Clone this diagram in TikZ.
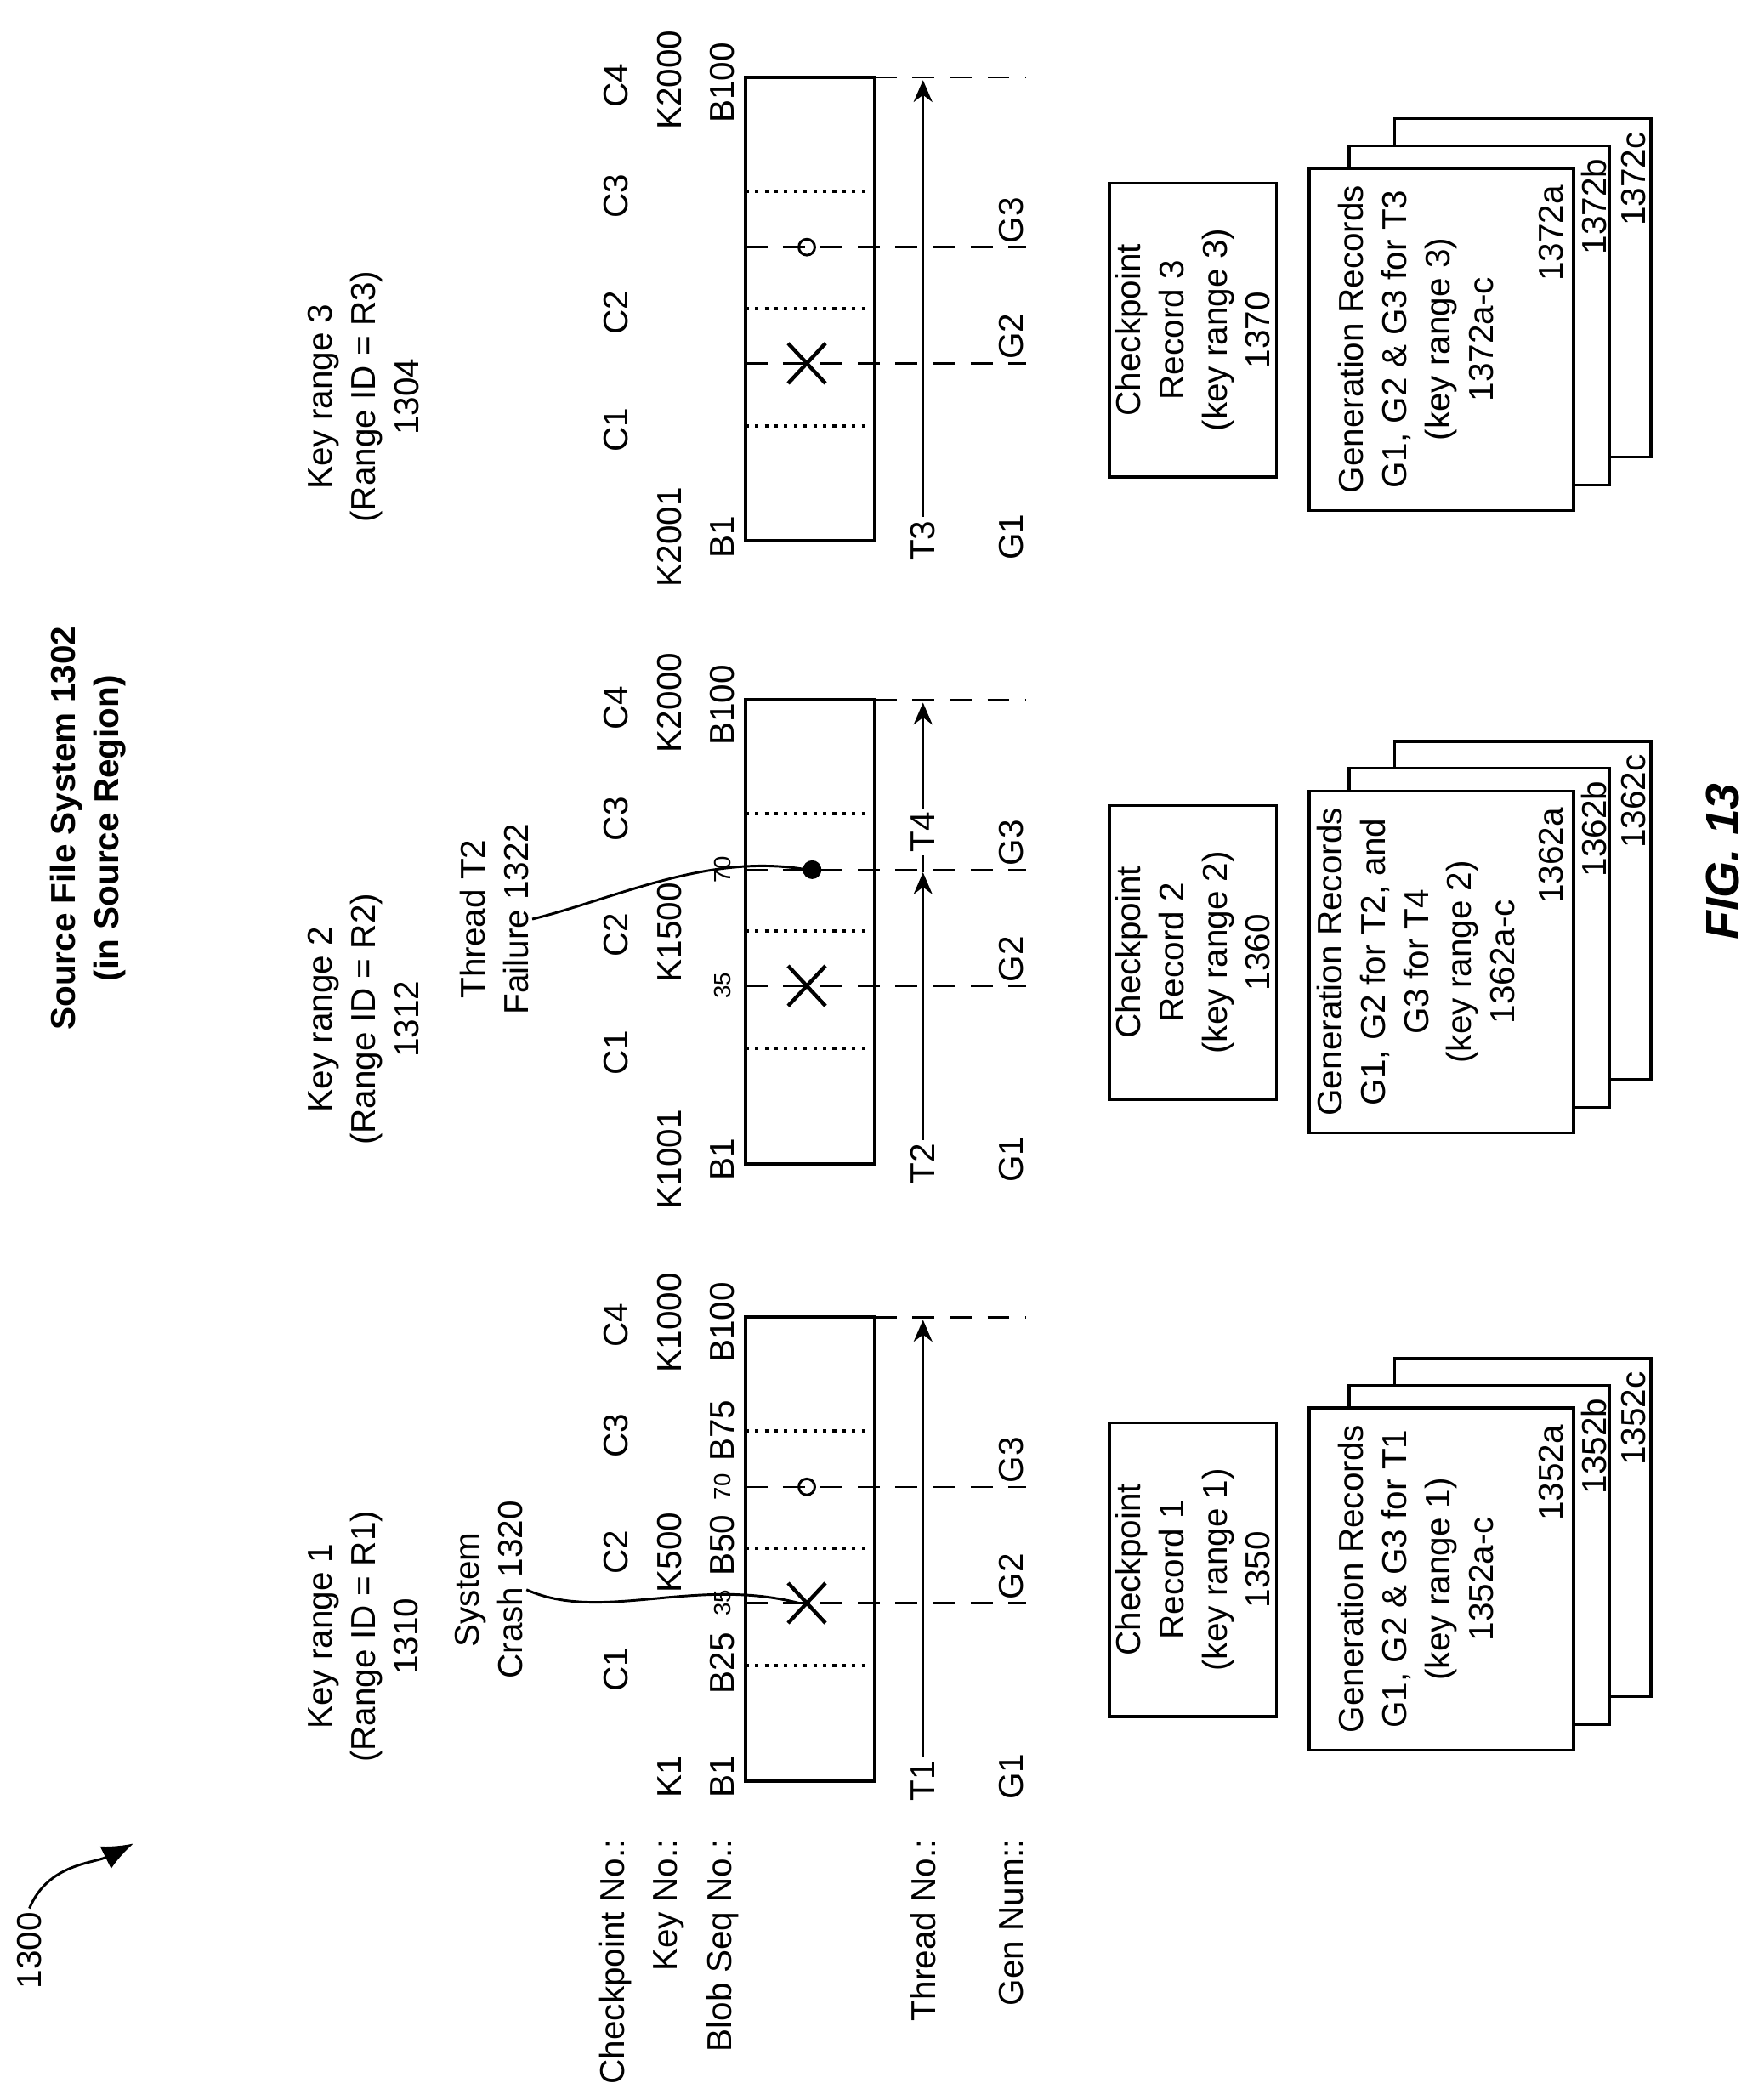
\documentclass[tikz,border=0pt]{standalone}
\usepackage{fontspec}
\setmainfont{Liberation Sans}
\usetikzlibrary{arrows.meta}
\begin{document}
\begin{tikzpicture}[x=0.015cm,y=-0.015cm,
  lbl/.style={rotate=90, font=\fontsize{11}{13.8}\selectfont, align=center, inner sep=1pt},
  tiny/.style={rotate=90, font=\fontsize{7.5}{8}\selectfont, inner sep=0.5pt},
  rec/.style={draw, line width=0.9pt, fill=white},
  guide/.style={dash pattern=on 7pt off 5pt, line width=0.7pt},
  cut/.style={dotted, line width=1.1pt},
  flow/.style={-{Stealth[length=7pt,width=6pt]}, line width=0.7pt},
  lead/.style={line width=0.8pt}]
\useasboundingbox (0,0) rectangle (1320,1572);

% heading and reference numeral
\node[lbl, font=\bfseries\fontsize{11}{13.8}\selectfont] (title) at (66,620) {Source File System 1302\\(in Source Region)};
\node[lbl] (ref) at (22,1460) {1300};
\draw[-{Latex[length=10pt,width=8pt]}, line width=0.8pt] (ref.east) .. controls (36,1395) and (70,1395) .. (100,1380);
\node[rotate=90, font=\bfseries\itshape\fontsize{15}{18}\selectfont] (figno) at (1290,645) {FIG. 13};

% row captions
\node[lbl, anchor=east] (cpno) at (461,1374) {Checkpoint No.:};
\node[lbl, anchor=east] (keyno) at (501,1374) {Key No.:};
\node[lbl, anchor=east] (blobno) at (541,1374) {Blob Seq No.:};
\node[lbl, anchor=east] (thrno) at (691,1374) {Thread No.:};
\node[lbl, anchor=east] (genno) at (757,1374) {Gen Num::};

% three key ranges
\foreach \p/\s/\n/\kr/\crec in {1/0/1/1310/1350, 2/-462/2/1312/1360, 3/-928/3/1304/1370}{
\begin{scope}[shift={(0,\s)}]
  \coordinate (lo\p) at (558,1333);
  \coordinate (hi\p) at (655,986);
  \draw[line width=1.1pt] (lo\p) rectangle (hi\p);
  \foreach \y in {1247,1159,1071}{
    \coordinate (da\p\y) at (558,\y);
    \coordinate (db\p\y) at (651,\y);
    \draw[cut] (da\p\y) -- (db\p\y);
  }
  \coordinate (end\p) at (768,986);
  \draw[guide] (hi\p) -- (end\p);
  \coordinate (xa\p) at (558,1200);
  \coordinate (xb\p) at (768,1200);
  \draw[guide] (xa\p) -- (xb\p);
  \coordinate (oa\p) at (558,1113);
  \coordinate (ob\p) at (768,1113);
  \draw[guide] (oa\p) -- (ob\p);
  \draw[line width=1.2pt] (590,1185) -- (618,1215) (590,1215) -- (618,1185);
  \node[lbl] (c1\p) at (461,1250) {C1};
  \node[lbl] (c2\p) at (461,1162) {C2};
  \node[lbl] (c3\p) at (461,1075) {C3};
  \node[lbl] (c4\p) at (461,992) {C4};
  \node[lbl] (b1\p) at (541,1330) {B1};
  \node[lbl] (b4\p) at (541,990) {B100};
  \node[lbl] (g1\p) at (757,1330) {G1};
  \node[lbl] (g2\p) at (757,1180) {G2};
  \node[lbl] (g3\p) at (757,1093) {G3};
  \node[lbl] (kr\p) at (272,1225) {Key range \n\\(Range ID = R\n)\\\kr};
  \node[rec, lbl, minimum width=3.3cm, minimum height=1.875cm] (cp\p) at (893,1175) {Checkpoint\\Record \n\\(key range \n)\\\crec};
  \draw[rec] (1044,1017) rectangle (1236,1270);
  \draw[rec] (1010,1037) rectangle (1205,1291);
  \draw[rec] (980,1054) rectangle (1178,1310);
\end{scope}
}

% key range 1
\node[lbl] (k11) at (501,1330) {K1};
\node[lbl] (k21) at (501,1162) {K500};
\node[lbl] (k31) at (501,990) {K1000};
\node[lbl] (b21) at (541,1245) {B25};
\node[lbl] (b31) at (541,1157) {B50};
\node[lbl] (b41) at (541,1071) {B75};
\node[tiny] (n35a) at (541,1200) {35};
\node[tiny] (n70a) at (541,1113) {70};
\draw[line width=0.8pt] (604,1113) circle (6);
\node[lbl] (t1) at (691,1333) {T1};
\coordinate (t1e) at (691,988);
\draw[flow] (t1) -- (t1e);
\node[lbl] (crash) at (366,1190) {System\\Crash 1320};
\coordinate (hit1) at (598,1200);
\draw[lead] (crash.south) .. controls (450,1215) and (520,1180) .. (hit1);
\node[lbl, anchor=center] (gr1) at (1060,1182) {Generation Records\\G1, G2 \& G3 for T1\\(key range 1)\\1352a-c};

% key range 2
\begin{scope}[shift={(0,-462)}]
\node[lbl] (k12) at (501,1330) {K1001};
\node[lbl] (k22) at (501,1160) {K1500};
\node[lbl] (k32) at (501,988) {K2000};
\node[tiny] (n35b) at (541,1200) {35};
\node[tiny] (n70b) at (541,1113) {70};
\fill (608,1113) circle (7);
\node[lbl] (t2) at (691,1333) {T2};
\coordinate (t2e) at (691,1115);
\draw[flow] (t2) -- (t2e);
\coordinate (t4s) at (691,1115);
\coordinate (t4e) at (691,988);
\draw[flow] (t4s) -- (t4e);
\node[lbl, fill=white] (t4) at (691,1085) {T4};
\node[lbl] (fail) at (370,1150) {Thread T2\\Failure 1322};
\coordinate (hit2) at (604,1113);
\draw[lead] (fail.south) .. controls (460,1135) and (530,1100) .. (hit2);
\node[lbl] (gr2) at (1060,1182) {Generation Records\\G1, G2 for T2, and\\G3 for T4\\(key range 2)\\1362a-c};
\end{scope}

% key range 3
\begin{scope}[shift={(0,-928)}]
\node[lbl] (k13) at (501,1330) {K2001};
\node[lbl] (k33) at (501,988) {K2000};
\draw[line width=0.8pt] (604,1113) circle (6);
\node[lbl] (t3) at (691,1333) {T3};
\coordinate (t3e) at (691,988);
\draw[flow] (t3) -- (t3e);
\node[lbl] (gr3) at (1060,1182) {Generation Records\\G1, G2 \& G3 for T3\\(key range 3)\\1372a-c};
\end{scope}

% record suffixes
\foreach \p/\s/\r in {1/0/1352, 2/-462/1362, 3/-928/1372}{
  \node[lbl, anchor=east] (ra\p) at (1161,1064+\s) {\r a};
  \node[lbl, anchor=east] (rb\p) at (1193,1044+\s) {\r b};
  \node[lbl, anchor=east] (rc\p) at (1223,1024+\s) {\r c};
}
\end{tikzpicture}
\end{document}
